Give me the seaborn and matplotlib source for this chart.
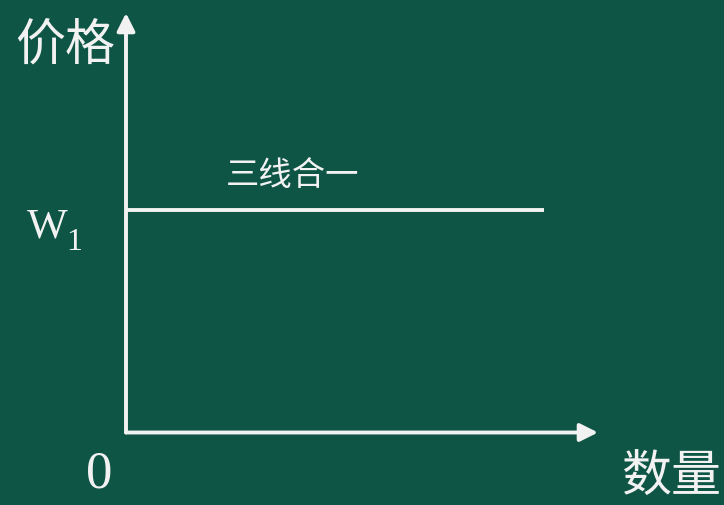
import matplotlib
matplotlib.use("Agg")
from matplotlib import pyplot as plt
import numpy as np
import pandas as pd
import seaborn as sns

# chart data (axis units 0..10 on both axes)
quantity = [0.0, 8.86]
price = [5.30, 5.30]
x_max = 10.0
y_max = 10.0
line_label = "三线合一"
y_label = "价格"
x_label = "数量"
level_label = "W"
level_sub = "1"
origin_label = "0"

bg = "#0e5546"
fg = "#f2f2f2"

sns.set_theme(style="dark", rc={"figure.facecolor": bg, "axes.facecolor": bg})
plt.rcParams["font.family"] = ["Noto Sans CJK SC", "DejaVu Sans"]

df = pd.DataFrame({"数量": quantity, "价格": price})

fig = plt.figure(figsize=(7.24, 5.05), dpi=100)
W, H = 724, 505
# axes box from origin (126, 432.5) to arrow tips (598, 13) in pixels
ax = fig.add_axes([126 / W, (H - 432.5) / H, 472 / W, 419.5 / H])
ax.set_xlim(0, x_max)
ax.set_ylim(0, y_max)
ax.axis("off")

sns.lineplot(data=df, x="数量", y="价格", ax=ax, color=fg, lw=2.8,
             solid_capstyle="butt", clip_on=False)

arrow = dict(arrowstyle="-|>,head_length=0.4,head_width=0.2", mutation_scale=27,
             color=fg, lw=2.8, shrinkA=0, shrinkB=0)
ax.annotate("", xy=(x_max, 0), xytext=(0, 0), arrowprops=arrow, annotation_clip=False)
ax.annotate("", xy=(0, y_max), xytext=(0, 0), arrowprops=arrow, annotation_clip=False)

def px(x, y):
    return x / W, (H - y) / H

fig.text(*px(65, 46), y_label, fontsize=36, color=fg, ha="center", va="center", weight="light")
fig.text(*px(671, 477), x_label, fontsize=36, color=fg, ha="center", va="center", weight="light")
fig.text(*px(293, 175), line_label, fontsize=24, color=fg, ha="center", va="center", weight="light")
fig.text(*px(99.5, 474), origin_label, fontsize=38, color=fg, ha="center", va="center",
         family="Liberation Serif")
fig.text(*px(47, 227), level_label, fontsize=31, color=fg, ha="center", va="center",
         family="Liberation Serif")
fig.text(*px(74, 243), level_sub, fontsize=23, color=fg, ha="center", va="center",
         family="Liberation Serif")

fig.savefig("out.png", dpi=100, facecolor=bg)
